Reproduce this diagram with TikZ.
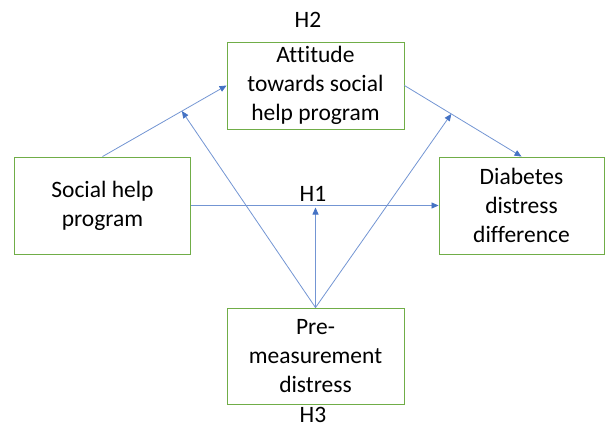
\documentclass[tikz,border=0pt]{standalone}
\usepackage{fontspec}
\setmainfont[Ligatures=NoCommon]{Carlito}
\usetikzlibrary{arrows.meta,calc}
\definecolor{boxgreen}{RGB}{112,173,71}
\definecolor{linkblue}{RGB}{68,114,196}
\begin{document}
\begin{tikzpicture}[x=1pt,y=-1pt,
  varbox/.style={draw=boxgreen,line width=0.9pt,rectangle,inner sep=0pt,
    align=center,font=\fontsize{23.5}{28.8}\selectfont},
  hyp/.style={inner sep=0pt,font=\fontsize{23.5}{28}\selectfont},
  link/.style={draw=linkblue!75,line width=0.8pt,
    -{Triangle[length=7pt,width=6pt,color=linkblue]}}]
\useasboundingbox (0,0) rectangle (605,428);
% variables
\node[varbox,minimum width=177pt,minimum height=87pt] (att) at (315.5,85.5)
  {Attitude\\towards social\\help program};
\node[varbox,minimum width=176pt,minimum height=97pt] (shp) at (102.5,205.5)
  {Social help\\program};
\node[varbox,minimum width=165pt,minimum height=97pt] (dd) at (521.5,205.5)
  {Diabetes\\distress\\difference};
\node[varbox,minimum width=177pt,minimum height=96pt] (pre) at (315.5,356)
  {Pre-\\measurement\\distress};
% hypothesis labels
\node[hyp] (h2) at (308,20) {H2};
\node[hyp] (h1) at (313,194) {H1};
\node[hyp] (h3) at (313,414.5) {H3};
% direct paths
\draw[link] (shp.north) -- (att.west);
\draw[link] (att.east) -- (dd.north);
\draw[link] (shp.east) -- (dd.west);
% moderation paths onto the direct paths
\coordinate (m1) at ($(shp.north)!0.64!(att.west)$);
\coordinate (m2) at ($(att.east)!0.4!(dd.north)$);
\coordinate (m3) at ($(pre.north |- shp.east)+(0,2)$);
\draw[link] (pre.north) -- (m1);
\draw[link] (pre.north) -- (m2);
\draw[link] (pre.north) -- (m3);
\end{tikzpicture}
\end{document}
